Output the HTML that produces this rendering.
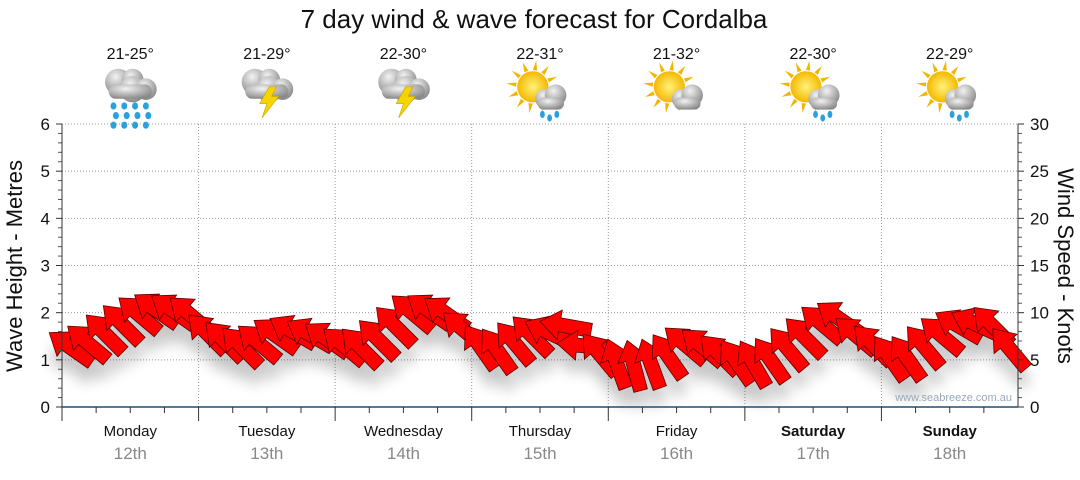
<!DOCTYPE html>
<html><head><meta charset="utf-8"><style>
body{margin:0;background:#fff;font-family:"Liberation Sans",sans-serif}
svg text{font-family:"Liberation Sans",sans-serif}
</style></head><body>
<svg width="1080" height="475" viewBox="0 0 1080 475">
<defs>
<filter id="sh" x="-50%" y="-50%" width="200%" height="200%"><feGaussianBlur stdDeviation="7"/></filter>
<radialGradient id="cl" cx="40%" cy="30%" r="70%"><stop offset="0" stop-color="#f2f2f2"/><stop offset="1" stop-color="#8a8a8a"/></radialGradient>
<radialGradient id="sun" cx="50%" cy="50%" r="50%"><stop offset="0" stop-color="#fff27a"/><stop offset="1" stop-color="#f4b800"/></radialGradient>
</defs>
<text x="534" y="28" text-anchor="middle" font-size="26" fill="#111">7 day wind &amp; wave forecast for Cordalba</text>
<g id="grid"></g>
<g id="icons"></g>
<g id="shadow" filter="url(#sh)" opacity="0.22"></g>
<g id="arrows"></g>
<g id="axes"></g>
<text x="1012" y="401" text-anchor="end" font-size="11" fill="#9aa8b8">www.seabreeze.com.au</text>
<text transform="translate(22,266) rotate(-90)" text-anchor="middle" font-size="22" fill="#111">Wave Height - Metres</text>
<text transform="translate(1058,266) rotate(90)" text-anchor="middle" font-size="22" fill="#111">Wind Speed - Knots</text>
</svg>
<script>
const days=["Monday","Tuesday","Wednesday","Thursday","Friday","Saturday","Sunday"];
const dates=["12th","13th","14th","15th","16th","17th","18th"];
const temps=["21-25°","21-29°","22-30°","22-31°","21-32°","22-30°","22-29°"];
const weather=["rain","storm","storm","sunshower","suncloud","sunshower","sunshower"];
const waveTicks=[0,1,2,3,4,5,6];
const windTicks=[0,5,10,15,20,25,30];
const windSpeed=[6.3,6.8,7.8,8.8,9.8,10.3,10.2,9.8,
 7.8,7.0,6.4,6.8,7.6,8.0,7.7,7.2,
 6.5,6.3,7.2,8.6,10.0,10.2,9.9,8.2,
 6.4,6.0,6.8,7.6,7.9,8.6,6.5,5.6,
 4.6,4.4,4.6,5.4,6.6,6.4,5.6,4.8,
 4.6,5.0,6.2,7.4,8.8,9.4,7.6,6.6,
 5.2,5.2,6.4,7.6,8.6,8.8,8.6,6.2];
const windDir=[35,40,45,45,40,35,35,40,
 45,45,45,40,35,30,30,35,
 40,45,45,45,40,35,35,40,
 55,55,50,45,25,10,5,50,
 70,75,70,55,40,40,45,55,
 60,55,50,45,40,35,40,45,
 55,55,50,40,30,25,45,50];
const NS="http://www.w3.org/2000/svg";
const X0=62,X1=1018,Y0=407,Y1=124,DW=(X1-X0)/7;
const yWave=v=>Y0-(v/6)*(Y0-Y1);
const yWind=v=>Y0-(v/30)*(Y0-Y1);
const xIdx=i=>X0+(i+0.5)*DW/8;
function mk(t,a,p){const e=document.createElementNS(NS,t);for(const k in a)e.setAttribute(k,a[k]);(p||document.querySelector('svg')).appendChild(e);return e;}
const grid=document.getElementById('grid'),axes=document.getElementById('axes');
waveTicks.forEach(v=>{
 if(v>0){const g=mk('line',{x1:X0,x2:X1,y1:yWave(v),y2:yWave(v),stroke:'#999','stroke-dasharray':'1 2'},grid);
 
 }
 const t=mk('text',{x:50,y:yWave(v)+6,'text-anchor':'end','font-size':17,fill:'#111'},axes);t.textContent=v;
 
 
 mk('line',{x1:X0-6,x2:X0,y1:yWave(v),y2:yWave(v),stroke:'#333'},axes);
 for(let k=1;k<5&&v<6;k++)mk('line',{x1:X0-4,x2:X0,y1:yWave(v+k/5),y2:yWave(v+k/5),stroke:'#555'},axes);
});
windTicks.forEach(v=>{
 const t=mk('text',{x:1030,y:yWind(v)+6,'font-size':17,fill:'#111'},axes);t.textContent=v;
 
 
 mk('line',{x1:X1,x2:X1+6,y1:yWind(v),y2:yWind(v),stroke:'#333'},axes);
 for(let k=1;k<5&&v<30;k++)mk('line',{x1:X1,x2:X1+4,y1:yWind(v+k),y2:yWind(v+k),stroke:'#555'},axes);
});
mk('line',{x1:X0,x2:X0,y1:Y1,y2:Y0,stroke:'#333'},axes);
mk('line',{x1:X1,x2:X1,y1:Y1,y2:Y0,stroke:'#333'},axes);
mk('line',{x1:X0,x2:X1,y1:Y0,y2:Y0,stroke:'#1d4f73','stroke-width':1.5},axes);
days.forEach((d,i)=>{
 const x=X0+i*DW,cx=x+DW/2;
 if(i>0){const l=mk('line',{x1:x,x2:x,y1:Y1,y2:Y0,stroke:'#999','stroke-dasharray':'1 2'},grid);
 
 }
 mk('line',{x1:x,x2:x,y1:Y0,y2:Y0+14,stroke:'#333'},axes);
 for(let k=1;k<4;k++)mk('line',{x1:x+k*DW/4,x2:x+k*DW/4,y1:Y0,y2:Y0+6,stroke:'#333'},axes);
 const bold=i>=5;
 const t=mk('text',{x:cx,y:436,'text-anchor':'middle','font-size':15,fill:'#111','font-weight':bold?'bold':'normal'},axes);t.textContent=d;
 
 
 const t2=mk('text',{x:cx,y:459,'text-anchor':'middle','font-size':17,fill:'#888'},axes);t2.textContent=dates[i];
 
 
 const t3=mk('text',{x:cx,y:59,'text-anchor':'middle','font-size':16,fill:'#111'});t3.textContent=temps[i];
 
 
 const g=mk('g',{transform:'translate('+cx+',94) scale(1.2)'},document.getElementById('icons'));
 
 
 const w=weather[i];
 if(w.startsWith('sun')){
  for(let a=0;a<12;a++){const r=a*Math.PI/6;mk('polygon',{points:[[-6+14*Math.cos(r),-6+14*Math.sin(r)],[-6+22*Math.cos(r+0.13),-6+22*Math.sin(r+0.13)],[-6+14*Math.cos(r+0.26),-6+14*Math.sin(r+0.26)]].join(' '),fill:'#f2b600'},g);}
  mk('circle',{cx:-6,cy:-6,r:13,fill:'url(#sun)'},g);
  mk('circle',{cx:4,cy:4,r:8,fill:'url(#cl)'},g);mk('circle',{cx:13,cy:1,r:9,fill:'url(#cl)'},g);
  mk('rect',{x:-2,y:3,width:22,height:10,rx:5,fill:'url(#cl)'},g);
  if(w==='sunshower')[[2,17],[8,20],[14,17]].forEach(p=>mk('ellipse',{cx:p[0],cy:p[1],rx:2,ry:3,fill:'#2aa0dd'},g));
 } else {
  mk('circle',{cx:-10,cy:-10,r:11,fill:'url(#cl)'},g);mk('circle',{cx:2,cy:-12,r:9,fill:'url(#cl)'},g);
  mk('circle',{cx:2,cy:-4,r:11,fill:'url(#cl)'},g);mk('circle',{cx:13,cy:-4,r:9,fill:'url(#cl)'},g);
  mk('rect',{x:-18,y:-8,width:36,height:12,rx:6,fill:'url(#cl)'},g);
  if(w==='rain'){for(let r=0;r<3;r++)for(let c=0;c<4;c++)mk('ellipse',{cx:-14+c*9+(r%2)*2,cy:10+r*8,rx:2.5,ry:3,fill:'#2aa0dd'},g);}
  else{mk('polygon',{points:'2,-6 -6,8 0,8 -4,20 10,2 4,2 8,-6',fill:'#f5d400',stroke:'#c9a000','stroke-width':0.5},g);}
 }
});
const AR='-26,0 -6,-15 -6,-7 26,-7 26,7 -6,7 -6,15';
const arrG=document.getElementById('arrows'),shG=document.getElementById('shadow');
windSpeed.forEach((v,i)=>{
 const x=xIdx(i),y=yWind(v),r=windDir[i];
 mk('polygon',{points:AR,transform:'translate('+x+','+(y+16)+') rotate('+r+')',fill:'#000'},shG);
 const a=mk('polygon',{points:AR,transform:'translate('+x+','+y+') rotate('+r+')',fill:'#ff0000',stroke:'#5a0000','stroke-width':0.8},arrG);
 
 
});
</script>
</body></html>
